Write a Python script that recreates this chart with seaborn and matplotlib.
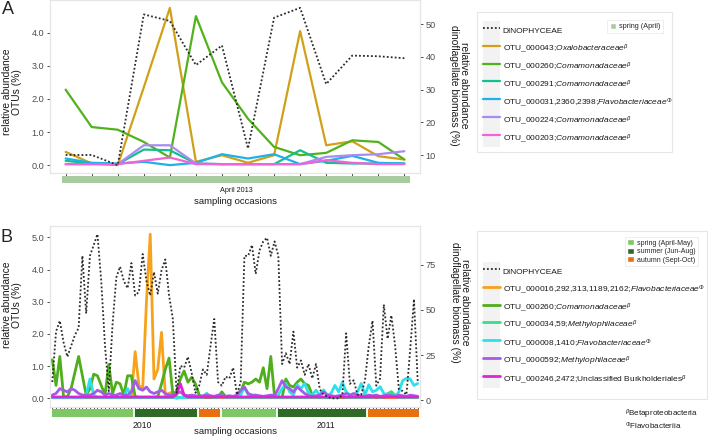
import numpy as np
import pandas as pd
import matplotlib
matplotlib.use("Agg")
import matplotlib.pyplot as plt
import matplotlib.transforms as mtransforms
import seaborn as sns
from matplotlib.lines import Line2D
from matplotlib.patches import Patch, Rectangle
from matplotlib.legend_handler import HandlerLine2D
from matplotlib.ticker import FormatStrFormatter

# ---------------- Panel A data (14 sampling occasions, April 2013) ----------------
a_dino = [10, 10, 6.9, 53, 51, 37.5, 43.5, 12, 52, 55, 31.7, 40.4, 40.2, 39.6]
a_otu043 = [0.4, 0.05, 0.0, 2.35, 4.75, 0.1, 0.3, 0.07, 0.3, 4.05, 0.6, 0.72, 0.27, 0.17]
a_otu260 = [2.28, 1.15, 1.07, 0.7, 0.23, 4.5, 2.5, 1.4, 0.55, 0.3, 0.37, 0.75, 0.7, 0.17]
a_otu291 = [0.13, 0.05, 0.03, 0.47, 0.45, 0.05, 0.03, 0.03, 0.03, 0.45, 0.07, 0.05, 0.05, 0.05]
a_otu031 = [0.2, 0.07, 0.05, 0.1, 0.0, 0.07, 0.33, 0.2, 0.33, 0.03, 0.13, 0.28, 0.07, 0.05]
a_otu224 = [0.03, 0.03, 0.03, 0.6, 0.6, 0.05, 0.03, 0.03, 0.03, 0.03, 0.25, 0.3, 0.33, 0.42]
a_otu203 = [0.03, 0.03, 0.03, 0.13, 0.23, 0.03, 0.03, 0.03, 0.03, 0.03, 0.15, 0.07, 0.03, 0.03]
a_labels = [
    "OTU_000043;$\\it{Oxalobacteraceae}^{\\beta}$",
    "OTU_000260;$\\it{Comamonadaceae}^{\\beta}$",
    "OTU_000291;$\\it{Comamonadaceae}^{\\beta}$",
    "OTU_000031,2360,2398;$\\it{Flavobacteriaceae}^{\\Phi}$",
    "OTU_000224;$\\it{Comamonadaceae}^{\\beta}$",
    "OTU_000203;$\\it{Comamonadaceae}^{\\beta}$",
]
a_colors = ["#CFA11A", "#52B21E", "#13BF8E", "#1CB2E8", "#A98CF2", "#F262D8"]
a_season_names = ["spring (April)"]
a_season_counts = [14]
a_season_colors = ["#A8CCA0"]

# ---------------- Panel B data (98 sampling occasions, 2010-2011) ----------------
b_dino = [10, 38, 44, 32, 24, 30, 36, 40, 80, 48,
          80, 86, 92, 66, 30, 5, 42, 68, 74, 66,
          62, 76, 58, 60, 81, 66, 58, 71, 59, 72,
          78, 58, 45, 4, 19, 18, 24, 15, 4, 8,
          17, 14, 30, 45, 10, 8, 13, 12, 18, 3,
          10, 80, 80, 86, 70, 83, 88, 90, 80, 88,
          80, 20, 26, 20, 38, 18, 22, 14, 20, 12,
          20, 6, 3, 2, 1, 1, 1, 3, 37, 9,
          11, 3, 3, 11, 30, 44, 8, 12, 53, 34,
          47, 30, 6, 5, 3, 28, 56, 10]
b_otu016 = [0.02, 0.02, 0.02, 0.02, 0.02, 0.02, 0.02, 0.02, 0.02, 0.02,
            0.02, 0.02, 0.02, 0.02, 0.02, 0.02, 0.02, 0.02, 0.02, 0.02,
            0.02, 0.02, 1.45, 0.4, 0.3, 3.0, 5.1, 0.6, 0.9, 2.05,
            0.1, 0.15, 0.2, 0.05, 0.02, 0.02, 0.02, 0.02, 0.02, 0.02,
            0.02, 0.02, 0.02, 0.02, 0.02, 0.02, 0.02, 0.02, 0.02, 0.02,
            0.02, 0.02, 0.02, 0.02, 0.02, 0.02, 0.02, 0.02, 0.02, 0.02,
            0.02, 0.02, 0.02, 0.02, 0.02, 0.02, 0.02, 0.02, 0.02, 0.02,
            0.02, 0.02, 0.02, 0.02, 0.02, 0.02, 0.02, 0.02, 0.02, 0.02,
            0.02, 0.02, 0.02, 0.02, 0.02, 0.02, 0.02, 0.02, 0.02, 0.02,
            0.02, 0.02, 0.02, 0.02, 0.02, 0.02, 0.02, 0.02]
b_otu260 = [1.2, 0.4, 1.3, 0.05, 0.05, 0.3, 0.8, 1.3, 0.7, 0.1,
            0.3, 0.75, 0.7, 0.4, 0.1, 1.05, 0.15, 0.5, 0.45, 0.1,
            0.7, 0.7, 0.05, 0.03, 0.03, 0.03, 0.03, 0.03, 0.05, 0.45,
            0.9, 1.25, 0.15, 0.2, 0.6, 0.85, 0.5, 0.65, 0.45, 0.1,
            0.03, 0.03, 0.03, 0.03, 0.03, 0.2, 0.05, 0.03, 0.03, 0.03,
            0.2, 0.5, 0.45, 0.5, 0.6, 0.5, 0.95, 0.3, 1.3, 0.05,
            0.03, 0.03, 0.6, 0.4, 0.35, 0.5, 0.6, 0.45, 0.4, 0.1,
            0.05, 0.03, 0.03, 0.03, 0.03, 0.03, 0.03, 0.03, 0.03, 0.03,
            0.03, 0.03, 0.03, 0.03, 0.03, 0.05, 0.03, 0.03, 0.03, 0.05,
            0.2, 0.05, 0.03, 0.03, 0.03, 0.03, 0.03, 0.03]
b_otu034 = [0.02, 0.02, 0.02, 0.02, 0.02, 0.02, 0.02, 0.02, 0.02, 0.02,
            0.02, 0.02, 0.02, 0.02, 0.02, 0.02, 0.02, 0.02, 0.02, 0.02,
            0.02, 0.02, 0.02, 0.02, 0.02, 0.02, 0.02, 0.02, 0.02, 0.02,
            0.02, 0.02, 0.02, 0.02, 0.02, 0.02, 0.02, 0.02, 0.02, 0.02,
            0.05, 0.15, 0.05, 0.02, 0.02, 0.1, 0.02, 0.02, 0.02, 0.02,
            0.02, 0.02, 0.02, 0.02, 0.02, 0.02, 0.02, 0.02, 0.02, 0.02,
            0.02, 0.02, 0.02, 0.02, 0.02, 0.02, 0.02, 0.02, 0.02, 0.02,
            0.02, 0.02, 0.02, 0.02, 0.02, 0.02, 0.02, 0.1, 0.02, 0.02,
            0.02, 0.02, 0.02, 0.02, 0.02, 0.02, 0.1, 0.02, 0.05, 0.15,
            0.2, 0.1, 0.02, 0.02, 0.02, 0.02, 0.02, 0.02]
b_otu008 = [0.02, 0.02, 0.02, 0.02, 0.02, 0.02, 0.02, 0.02, 0.02, 0.1,
            0.6, 0.1, 0.03, 0.03, 0.03, 0.03, 0.03, 0.03, 0.03, 0.05,
            0.3, 0.05, 0.03, 0.03, 0.03, 0.03, 0.03, 0.03, 0.03, 0.03,
            0.03, 0.03, 0.05, 0.0, 0.03, 0.03, 0.03, 0.03, 0.03, 0.03,
            0.03, 0.15, 0.05, 0.05, 0.05, 0.05, 0.05, 0.05, 0.05, 0.05,
            0.1, 0.35, 0.1, 0.05, 0.05, 0.05, 0.05, 0.05, 0.05, 0.05,
            0.1, 0.3, 0.46, 0.2, 0.1, 0.42, 0.3, 0.46, 0.15, 0.1,
            0.25, 0.1, 0.26, 0.1, 0.15, 0.4, 0.2, 0.5, 0.2, 0.1,
            0.05, 0.2, 0.46, 0.1, 0.42, 0.2, 0.25, 0.36, 0.15, 0.1,
            0.1, 0.05, 0.2, 0.55, 0.62, 0.6, 0.4, 0.46]
b_otu592 = [0.1, 0.15, 0.3, 0.25, 0.2, 0.3, 0.25, 0.15, 0.1, 0.1,
            0.1, 0.15, 0.25, 0.2, 0.1, 0.15, 0.1, 0.1, 0.15, 0.1,
            0.1, 0.2, 0.55, 0.3, 0.25, 0.35, 0.2, 0.15, 0.2, 0.25,
            0.15, 0.1, 0.1, 0.15, 0.2, 0.1, 0.08, 0.1, 0.08, 0.06,
            0.08, 0.1, 0.08, 0.06, 0.1, 0.08, 0.06, 0.08, 0.06, 0.1,
            0.25, 0.35, 0.15, 0.1, 0.1, 0.08, 0.06, 0.08, 0.1, 0.08,
            0.3, 0.55, 0.35, 0.3, 0.2, 0.35, 0.25, 0.15, 0.08, 0.06,
            0.08, 0.1, 0.2, 0.1, 0.08, 0.06, 0.08, 0.1, 0.15, 0.1,
            0.15, 0.1, 0.08, 0.06, 0.1, 0.08, 0.1, 0.06, 0.08, 0.1,
            0.08, 0.06, 0.1, 0.08, 0.06, 0.1, 0.08, 0.06]
b_otu246 = [0.04, 0.04, 0.04, 0.04, 0.04, 0.04, 0.04, 0.04, 0.04, 0.04,
            0.04, 0.04, 0.04, 0.04, 0.04, 0.04, 0.04, 0.04, 0.04, 0.04,
            0.04, 0.04, 0.04, 0.04, 0.04, 0.04, 0.04, 0.04, 0.04, 0.04,
            0.04, 0.04, 0.04, 0.12, 0.45, 0.1, 0.04, 0.04, 0.04, 0.04,
            0.04, 0.04, 0.04, 0.04, 0.04, 0.04, 0.04, 0.04, 0.04, 0.04,
            0.04, 0.04, 0.04, 0.04, 0.04, 0.04, 0.04, 0.04, 0.04, 0.04,
            0.04, 0.04, 0.04, 0.04, 0.04, 0.04, 0.04, 0.04, 0.04, 0.04,
            0.04, 0.04, 0.04, 0.04, 0.04, 0.04, 0.04, 0.04, 0.04, 0.04,
            0.04, 0.04, 0.04, 0.04, 0.04, 0.04, 0.04, 0.04, 0.04, 0.04,
            0.04, 0.04, 0.04, 0.04, 0.04, 0.04, 0.04, 0.04]
b_labels = [
    "OTU_000016,292,313,1189,2162;$\\it{Flavobacteriaceae}^{\\Phi}$",
    "OTU_000260;$\\it{Comamonadaceae}^{\\beta}$",
    "OTU_000034,59;$\\it{Methylophilaceae}^{\\beta}$",
    "OTU_000008,1410;$\\it{Flavobacteriaceae}^{\\Phi}$",
    "OTU_0000592;$\\it{Methylophilaceae}^{\\beta}$",
    "OTU_000246,2472;Unclassified Burkholderiales$^{\\beta}$",
]
b_colors = ["#F7A21B", "#4FAE1C", "#35E08A", "#2EE0EA", "#A45CE6", "#E024D4"]
b_season_names = ["spring (April-May)", "summer (Jun-Aug)", "autumn (Sept-Oct)",
                  "spring (April-May)", "summer (Jun-Aug)", "autumn (Sept-Oct)"]
b_season_counts = [22, 17, 6, 15, 24, 14]
b_season_palette = {"spring (April-May)": "#7DC864",
                    "summer (Jun-Aug)": "#2F6B28",
                    "autumn (Sept-Oct)": "#E8700F"}
b_years = ["2010", "2011"]
b_year_counts = [45, 53]

# ---------------- style ----------------
sns.set_style("white")
plt.rcParams["font.family"] = ["Liberation Sans", "DejaVu Sans"]
plt.rcParams["mathtext.fontset"] = "custom"
plt.rcParams["mathtext.rm"] = "Liberation Sans"
plt.rcParams["mathtext.it"] = "Liberation Sans:italic"
plt.rcParams["mathtext.bf"] = "Liberation Sans:bold"

W, H = 709, 438
fig = plt.figure(figsize=(W / 100, H / 100), dpi=100)


def fx(px):
    return px / W


def fy(py):
    return 1 - py / H


SPINE = "#e6e6e6"
TICKC = "#333333"
LABC = "#4d4d4d"


class KeyHandler(HandlerLine2D):
    def create_artists(self, legend, orig_handle, xdescent, ydescent,
                       width, height, fontsize, trans):
        bg = Rectangle((-xdescent, -ydescent - 1.0), width, height + 2.0,
                       facecolor="#f2f2f2", edgecolor="none", transform=trans)
        arts = super().create_artists(legend, orig_handle, xdescent, ydescent,
                                      width, height, fontsize, trans)
        return [bg] + list(arts)


def panel(ax_rect, dino, series, labels, colors, lw, left_ticks, right_ticks):
    n = len(dino)
    samples = list(range(n))
    ax = fig.add_axes(ax_rect)
    ax2 = ax.twinx()
    rows = []
    for lab, vals in zip(labels, series):
        for i, v in enumerate(vals):
            rows.append({"sample": samples[i], "value": v, "otu": lab})
    df = pd.DataFrame(rows)
    sns.lineplot(data=df, x="sample", y="value", hue="otu", hue_order=labels,
                 palette=dict(zip(labels, colors)), ax=ax, legend=False,
                 linewidth=lw, sort=False)
    sns.lineplot(x=samples, y=dino, ax=ax2, color="#2b2b2b", linestyle=(0, (1, 1.2)),
                 linewidth=1.3, sort=False)
    for a in (ax, ax2):
        a.set_xlim(-0.6, n - 1 + 0.6)
        a.set_xlabel("")
        a.set_ylabel("")
        for s in a.spines.values():
            s.set_color(SPINE)
            s.set_linewidth(0.8)
    allv = np.concatenate([np.asarray(s, float) for s in series])
    lo, hi = allv.min(), allv.max()
    ax.set_ylim(lo - 0.05 * (hi - lo), hi + 0.05 * (hi - lo))
    dlo, dhi = min(dino), max(dino)
    ax2.set_ylim(dlo - 0.05 * (dhi - dlo), dhi + 0.05 * (dhi - dlo))
    ax.set_yticks(left_ticks)
    ax.yaxis.set_major_formatter(FormatStrFormatter("%.1f"))
    ax2.set_yticks(right_ticks)
    ax.set_xticks(samples)
    ax.tick_params(axis="x", length=2.6, width=0.6, color=TICKC, labelbottom=False,
                   direction="out", bottom=True)
    ax.tick_params(axis="y", length=2.5, width=0.6, color=TICKC, labelsize=6.6,
                   labelcolor=LABC, pad=1.5, left=True)
    ax2.tick_params(axis="y", length=2.5, width=0.6, color=TICKC, labelsize=6.6,
                    labelcolor=LABC, pad=1.5, right=True)
    return ax, ax2


def strip(rect, names, counts, palette):
    seq = []
    for nm, c in zip(names, counts):
        seq += [nm] * c
    axs = fig.add_axes(rect)
    idx = np.arange(len(seq))
    axs.bar(idx, np.ones(len(seq)), width=1.0, color=[palette[s] for s in seq],
            linewidth=0)
    for i in range(1, len(seq)):
        if seq[i] != seq[i - 1]:
            axs.axvline(i - 0.5, color="white", linewidth=1.3)
    axs.set_xlim(-0.5, len(seq) - 0.5)
    axs.set_ylim(0, 1)
    axs.axis("off")
    return axs


# ---------------- Panel A ----------------
a_series = [a_otu043, a_otu260, a_otu291, a_otu031, a_otu224, a_otu203]
axA, axA2 = panel([fx(50), fy(173), fx(370), 173 / H], a_dino, a_series, a_labels,
                  a_colors, 1.6, [0, 1, 2, 3, 4], [10, 20, 30, 40, 50])
strip([fx(62), fy(183), fx(348), 7 / H], a_season_names, a_season_counts,
      dict(zip(a_season_names, a_season_colors)))
fig.text(fx(236), fy(191), "April 2013", ha="center", va="center", fontsize=5.2, color="#1a1a1a")
fig.text(fx(236), fy(201), "sampling occasions", ha="center", va="center", fontsize=6.8, color="#1a1a1a")
fig.text(fx(12), fy(92), "relative abundance\nOTUs (%)", rotation=90, ha="center", va="center",
         fontsize=7.4, linespacing=1.0, color="#1a1a1a")
fig.text(fx(459), fy(85), "relative abundance\ndinoflagellate biomass (%)", rotation=270,
         ha="center", va="center", fontsize=7.4, linespacing=1.0, color="#1a1a1a")
fig.text(fx(8), fy(9), "A", ha="center", va="center", fontsize=13)

# ---------------- Panel B ----------------
b_series = [b_otu016, b_otu260, b_otu034, b_otu008, b_otu592, b_otu246]
axB, axB2 = panel([fx(50), fy(406.5), fx(370), 180.5 / H], b_dino, b_series, b_labels,
                  b_colors, 2.0, [0, 1, 2, 3, 4, 5], [0, 25, 50, 75])
axB2.yaxis.set_major_formatter(FormatStrFormatter("%d"))
axSB = strip([fx(52), fy(417), fx(367), 8 / H], b_season_names, b_season_counts,
             b_season_palette)
tr = mtransforms.blended_transform_factory(axSB.transData, fig.transFigure)
start = 0
for yr, c in zip(b_years, b_year_counts):
    axSB.text(start + (c - 1) / 2 + 1.5, fy(425), yr, transform=tr, ha="center", va="center",
              fontsize=6.2, color="#1a1a1a")
    start += c
fig.text(fx(236), fy(432), "sampling occasions", ha="center", va="center", fontsize=6.8, color="#1a1a1a")
fig.text(fx(12), fy(305), "relative abundance\nOTUs (%)", rotation=90, ha="center", va="center",
         fontsize=7.4, linespacing=1.0, color="#1a1a1a")
fig.text(fx(460), fy(302), "relative abundance\ndinoflagellate biomass (%)", rotation=270,
         ha="center", va="center", fontsize=7.4, linespacing=1.0, color="#1a1a1a")
fig.text(fx(7), fy(237), "B", ha="center", va="center", fontsize=13)

# ---------------- Legends ----------------
def line_legend(top_px, labels, colors, lw):
    handles = [Line2D([], [], color="#2b2b2b", linestyle=(0, (1, 1.2)), linewidth=1.3)]
    handles += [Line2D([], [], color=c, linewidth=lw) for c in colors]
    labs = ["DINOPHYCEAE"] + labels
    leg = fig.legend(handles, labs, loc="upper left",
                     bbox_to_anchor=(fx(483), fy(top_px)), borderaxespad=0,
                     borderpad=0, frameon=False, fontsize=6.0, handlelength=2.0,
                     handleheight=2.5, labelspacing=0.28, handletextpad=0.35,
                     handler_map={Line2D: KeyHandler()})
    for t in leg.get_texts():
        t.set_color("#1a1a1a")
    return leg


fig.add_artist(Rectangle((fx(477), fy(152)), fx(672) - fx(477), (152 - 12) / H,
                         transform=fig.transFigure, facecolor="white",
                         edgecolor="#e6e6e6", linewidth=0.8, zorder=0.5))
fig.add_artist(Rectangle((fx(477), fy(399)), fx(707) - fx(477), (399 - 231) / H,
                         transform=fig.transFigure, facecolor="white",
                         edgecolor="#e6e6e6", linewidth=0.8, zorder=0.5))

line_legend(22.5, a_labels, a_colors, 1.6)
line_legend(263.5, b_labels, b_colors, 2.0)

legSA = fig.legend([Patch(facecolor=c) for c in a_season_colors], a_season_names,
                   loc="upper left", bbox_to_anchor=(fx(607), fy(20)), borderaxespad=0,
                   fontsize=5.2, frameon=True, fancybox=False, edgecolor="#e6e6e6",
                   handlelength=0.9, handleheight=0.9, borderpad=0.35, handletextpad=0.4)
legSA.get_frame().set_linewidth(0.6)

b_unique = list(dict.fromkeys(b_season_names))
legSB = fig.legend([Patch(facecolor=b_season_palette[s]) for s in b_unique], b_unique,
                   loc="upper left", bbox_to_anchor=(fx(625), fy(237)), borderaxespad=0,
                   fontsize=5.0, frameon=True, fancybox=False, edgecolor="#e6e6e6",
                   handlelength=1.0, handleheight=1.0, borderpad=0.3, handletextpad=0.4,
                   labelspacing=0.15)
legSB.get_frame().set_linewidth(0.6)

fig.text(fx(625), fy(414), "$^{\\beta}$Betaproteobacteria", ha="left", va="center",
         fontsize=5.8, color="#1a1a1a")
fig.text(fx(625), fy(426), "$^{\\Phi}$Flavobacteriia", ha="left", va="center",
         fontsize=5.8, color="#1a1a1a")

fig.savefig("out.png", dpi=100)
